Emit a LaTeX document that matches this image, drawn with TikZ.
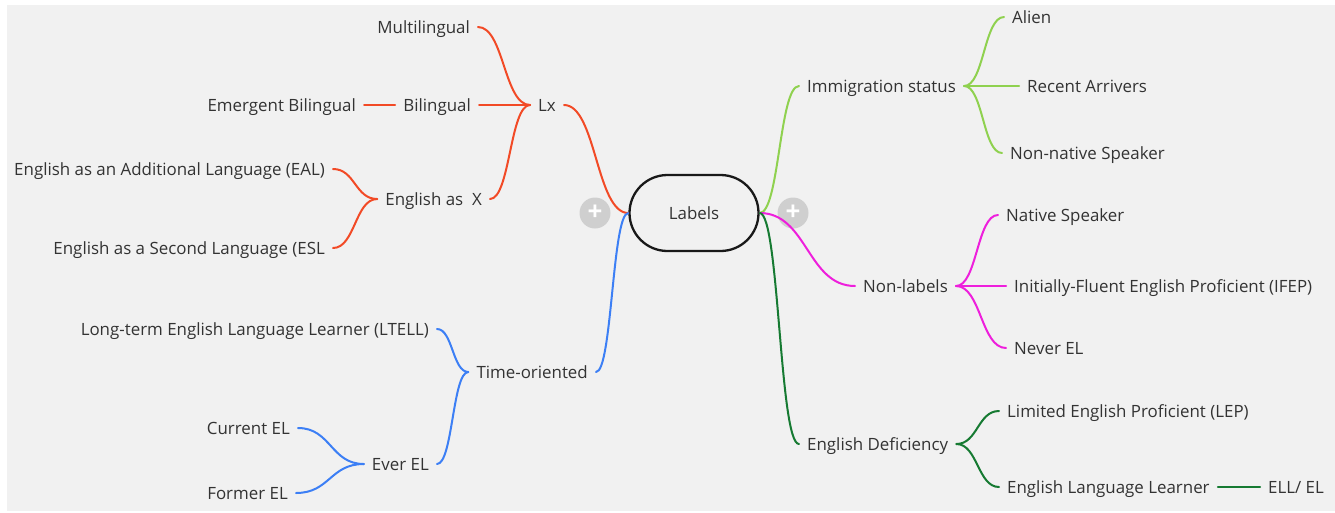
\documentclass[tikz,border=0pt]{standalone}
\usepackage{fontspec}
\setmainfont{Open Sans}
\usetikzlibrary{calc}
\definecolor{bg}{HTML}{F1F1F1}
\definecolor{txt}{HTML}{333333}
\definecolor{cred}{HTML}{F24A26}
\definecolor{cblue}{HTML}{3C7FF5}
\definecolor{clgreen}{HTML}{8FD14F}
\definecolor{cmag}{HTML}{EE1FDC}
\definecolor{cdgreen}{HTML}{167A32}
\definecolor{plusgray}{HTML}{CFCFCF}
\begin{document}
\begin{tikzpicture}[x=1pt,y=-1pt,
  lab/.style={font=\fontsize{16.9}{18}\selectfont, text=txt, inner xsep=8pt, inner ysep=0pt, text height=12pt, text depth=0pt},
  sc/.style={to path={let \p1=(\tikztostart), \p2=(\tikztotarget) in .. controls ({0.5*\x1+0.5*\x2},\y1) and ({0.5*\x1+0.5*\x2},\y2) .. (\tikztotarget)}},
  con/.style={line width=2pt, line cap=round},
  plusbtn/.style={circle, fill=plusgray, text=white, minimum size=31pt, inner sep=0pt, font=\bfseries\fontsize{26}{26}\selectfont}
]
\useasboundingbox (0,0) rectangle (1335,512);
\fill[white] (0,0) rectangle (1335,512);
\fill[bg] (7,5) rectangle (1335,511);

% centre
\node[draw=black!90, line width=2.3pt, rounded corners=38pt, minimum width=129pt, minimum height=76pt, font=\fontsize{16.9}{18}\selectfont, text=txt] (labels) at (694,213) {Labels};
\node[plusbtn] (plusL) at (595,213) {+};
\node[plusbtn] (plusR) at (793,213) {+};

% left: red branch
\node[lab, anchor=west] (lx) at (530,105) {Lx};
\node[lab, anchor=east] (mult) at (478,27) {Multilingual};
\node[lab, anchor=east] (bil) at (479,105) {Bilingual};
\node[lab, anchor=east] (emerg) at (364,105) {Emergent Bilingual};
\node[lab, anchor=east] (ex) at (490,199) {English as~ X};
\node[lab, anchor=east] (eal) at (333,169) {English as an Additional Language (EAL)};
\node[lab, anchor=east] (esl) at (333,248) {English as a Second Language (ESL};

% left: blue branch
\node[lab, anchor=east] (time) at (596,372) {Time-oriented};
\node[lab, anchor=east] (ltell) at (437,329) {Long-term English Language Learner (LTELL)};
\node[lab, anchor=east] (ever) at (437,464) {Ever EL};
\node[lab, anchor=east] (cur) at (298,428) {Current EL};
\node[lab, anchor=east] (former) at (296,493) {Former EL};

% right: light green branch
\node[lab, anchor=west] (imm) at (799,86) {Immigration status};
\node[lab, anchor=west] (alien) at (1004,17) {Alien};
\node[lab, anchor=west] (rec) at (1019,86) {Recent Arrivers};
\node[lab, anchor=west] (nonnat) at (1002,153) {Non-native Speaker};

% right: magenta branch
\node[lab, anchor=west] (nonlab) at (855,286) {Non-labels};
\node[lab, anchor=west] (native) at (998,215) {Native Speaker};
\node[lab, anchor=west] (ifep) at (1006,286) {Initially-Fluent English Proficient (IFEP)};
\node[lab, anchor=west] (never) at (1006,348) {Never EL};

% right: dark green branch
\node[lab, anchor=west] (engdef) at (799,444) {English Deficiency};
\node[lab, anchor=west] (lep) at (999,411) {Limited English Proficient (LEP)};
\node[lab, anchor=west] (ell) at (999,487) {English Language Learner};
\node[lab, anchor=west] (ellel) at (1260,487) {ELL/ EL};

% connectors
\draw[con, cred] (labels.west) to[sc] (lx.east);
\draw[con, cred] (lx.west) to[sc] (mult.east);
\draw[con, cred] (lx.west) -- (bil.east);
\draw[con, cred] (lx.west) to[sc] (ex.east);
\draw[con, cred] (bil.west) -- (emerg.east);
\draw[con, cred] (ex.west) to[sc] (eal.east);
\draw[con, cred] (ex.west) to[sc] (esl.east);

\draw[con, cblue] (labels.west) to[sc] (time.east);
\draw[con, cblue] (time.west) to[sc] (ltell.east);
\draw[con, cblue] (time.west) to[sc] (ever.east);
\draw[con, cblue] (ever.west) to[sc] (cur.east);
\draw[con, cblue] (ever.west) to[sc] (former.east);

\draw[con, clgreen] (labels.east) to[sc] (imm.west);
\draw[con, clgreen] (imm.east) to[sc] (alien.west);
\draw[con, clgreen] (imm.east) -- (rec.west);
\draw[con, clgreen] (imm.east) to[sc] (nonnat.west);

\draw[con, cmag] (labels.east) to[sc] (nonlab.west);
\draw[con, cmag] (nonlab.east) to[sc] (native.west);
\draw[con, cmag] (nonlab.east) -- (ifep.west);
\draw[con, cmag] (nonlab.east) to[sc] (never.west);

\draw[con, cdgreen] (labels.east) to[sc] (engdef.west);
\draw[con, cdgreen] (engdef.east) to[sc] (lep.west);
\draw[con, cdgreen] (engdef.east) to[sc] (ell.west);
\draw[con, cdgreen] (ell.east) -- (ellel.west);
\end{tikzpicture}
\end{document}
